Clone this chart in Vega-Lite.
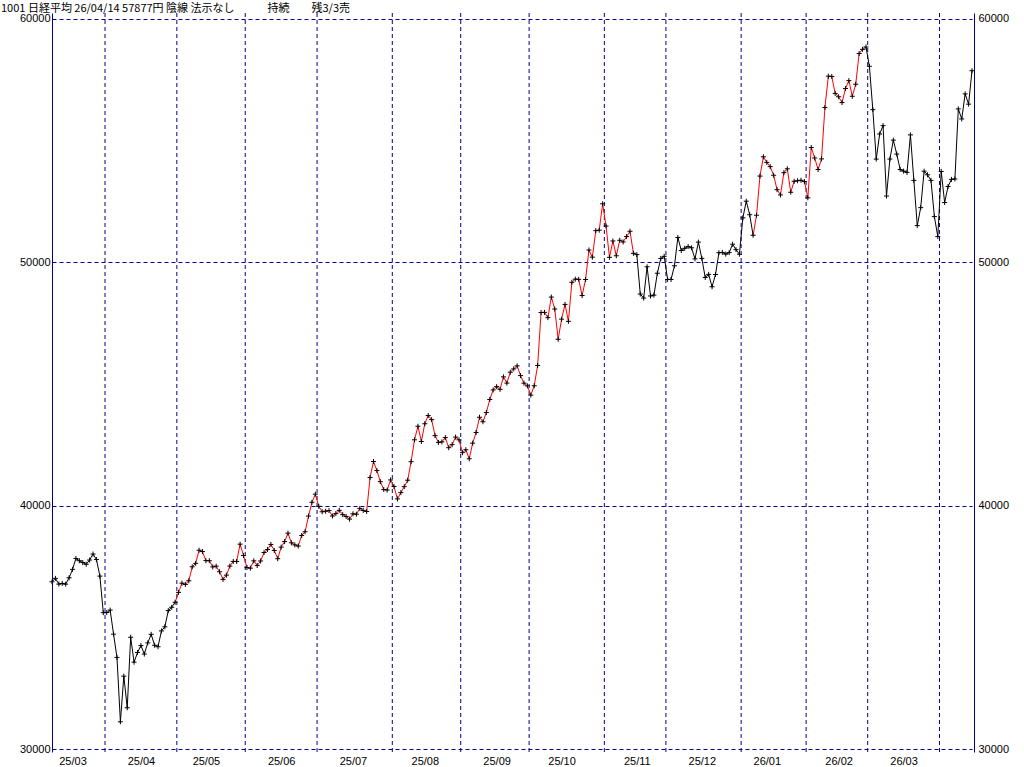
{
  "$schema": "https://vega.github.io/schema/vega-lite/v6.json",
  "width": 922,
  "height": 739,
  "autosize": "none",
  "padding": {"left": 52, "top": 13, "right": 50, "bottom": 15},
  "background": "white",
  "config": {
    "view": {"stroke": null},
    "axis": {"labelFont": "Liberation Sans", "labelFontSize": 11, "labelColor": "black"}
  },
  "title": {
    "text": "1001 日経平均 26/04/14 57877円 陰線 法示なし\u3000\u3000\u3000持続\u3000\u3000残3/3売",
    "anchor": "start",
    "frame": "group",
    "font": "Noto Sans CJK JP",
    "fontSize": 11,
    "fontWeight": "normal",
    "color": "black",
    "dx": -51,
    "offset": -10,
    "baseline": "alphabetic"
  },
  "datasets": {
    "months": [
      {"date": "2025-04-01"}, {"date": "2025-05-01"}, {"date": "2025-06-02"}, {"date": "2025-07-01"},
      {"date": "2025-08-01"}, {"date": "2025-09-01"}, {"date": "2025-10-01"}, {"date": "2025-11-04"},
      {"date": "2025-12-01"}, {"date": "2026-01-05"}, {"date": "2026-02-02"}, {"date": "2026-03-02"},
      {"date": "2026-04-01"}
    ],
    "prices": [
      {"date": "2025-03-07", "close": 36887, "c": "k"},
      {"date": "2025-03-10", "close": 37028, "c": "k"},
      {"date": "2025-03-11", "close": 36793, "c": "k"},
      {"date": "2025-03-12", "close": 36819, "c": "k"},
      {"date": "2025-03-13", "close": 36790, "c": "k"},
      {"date": "2025-03-14", "close": 37053, "c": "k"},
      {"date": "2025-03-17", "close": 37397, "c": "k"},
      {"date": "2025-03-18", "close": 37845, "c": "k"},
      {"date": "2025-03-19", "close": 37752, "c": "k"},
      {"date": "2025-03-21", "close": 37677, "c": "k"},
      {"date": "2025-03-24", "close": 37608, "c": "k"},
      {"date": "2025-03-25", "close": 37781, "c": "k"},
      {"date": "2025-03-26", "close": 38027, "c": "k"},
      {"date": "2025-03-27", "close": 37800, "c": "k"},
      {"date": "2025-03-28", "close": 37120, "c": "k"},
      {"date": "2025-03-31", "close": 35618, "c": "k"},
      {"date": "2025-04-01", "close": 35624, "c": "k"},
      {"date": "2025-04-02", "close": 35726, "c": "k"},
      {"date": "2025-04-03", "close": 34736, "c": "k"},
      {"date": "2025-04-04", "close": 33781, "c": "k"},
      {"date": "2025-04-07", "close": 31137, "c": "k"},
      {"date": "2025-04-08", "close": 33013, "c": "k"},
      {"date": "2025-04-09", "close": 31714, "c": "k"},
      {"date": "2025-04-10", "close": 34609, "c": "k"},
      {"date": "2025-04-11", "close": 33586, "c": "k"},
      {"date": "2025-04-14", "close": 33982, "c": "k"},
      {"date": "2025-04-15", "close": 34268, "c": "k"},
      {"date": "2025-04-16", "close": 33920, "c": "k"},
      {"date": "2025-04-17", "close": 34378, "c": "k"},
      {"date": "2025-04-18", "close": 34730, "c": "k"},
      {"date": "2025-04-21", "close": 34280, "c": "k"},
      {"date": "2025-04-22", "close": 34221, "c": "k"},
      {"date": "2025-04-23", "close": 34869, "c": "k"},
      {"date": "2025-04-24", "close": 35039, "c": "k"},
      {"date": "2025-04-25", "close": 35706, "c": "k"},
      {"date": "2025-04-28", "close": 35840, "c": "k"},
      {"date": "2025-04-30", "close": 36045, "c": "k"},
      {"date": "2025-05-01", "close": 36452, "c": "r"},
      {"date": "2025-05-02", "close": 36831, "c": "r"},
      {"date": "2025-05-07", "close": 36780, "c": "r"},
      {"date": "2025-05-08", "close": 36929, "c": "r"},
      {"date": "2025-05-09", "close": 37503, "c": "r"},
      {"date": "2025-05-12", "close": 37644, "c": "r"},
      {"date": "2025-05-13", "close": 38183, "c": "r"},
      {"date": "2025-05-14", "close": 38128, "c": "r"},
      {"date": "2025-05-15", "close": 37756, "c": "r"},
      {"date": "2025-05-16", "close": 37754, "c": "r"},
      {"date": "2025-05-19", "close": 37499, "c": "r"},
      {"date": "2025-05-20", "close": 37529, "c": "r"},
      {"date": "2025-05-21", "close": 37299, "c": "r"},
      {"date": "2025-05-22", "close": 36986, "c": "r"},
      {"date": "2025-05-23", "close": 37160, "c": "r"},
      {"date": "2025-05-26", "close": 37532, "c": "r"},
      {"date": "2025-05-27", "close": 37724, "c": "r"},
      {"date": "2025-05-28", "close": 37722, "c": "r"},
      {"date": "2025-05-29", "close": 38433, "c": "r"},
      {"date": "2025-05-30", "close": 37965, "c": "r"},
      {"date": "2025-06-02", "close": 37471, "c": "r"},
      {"date": "2025-06-03", "close": 37447, "c": "r"},
      {"date": "2025-06-04", "close": 37747, "c": "r"},
      {"date": "2025-06-05", "close": 37554, "c": "r"},
      {"date": "2025-06-06", "close": 37742, "c": "r"},
      {"date": "2025-06-09", "close": 38089, "c": "r"},
      {"date": "2025-06-10", "close": 38212, "c": "r"},
      {"date": "2025-06-11", "close": 38421, "c": "r"},
      {"date": "2025-06-12", "close": 38173, "c": "r"},
      {"date": "2025-06-13", "close": 37834, "c": "r"},
      {"date": "2025-06-16", "close": 38311, "c": "r"},
      {"date": "2025-06-17", "close": 38537, "c": "r"},
      {"date": "2025-06-18", "close": 38885, "c": "r"},
      {"date": "2025-06-19", "close": 38488, "c": "r"},
      {"date": "2025-06-20", "close": 38403, "c": "r"},
      {"date": "2025-06-23", "close": 38354, "c": "r"},
      {"date": "2025-06-24", "close": 38791, "c": "r"},
      {"date": "2025-06-25", "close": 38942, "c": "r"},
      {"date": "2025-06-26", "close": 39585, "c": "r"},
      {"date": "2025-06-27", "close": 40151, "c": "r"},
      {"date": "2025-06-30", "close": 40487, "c": "r"},
      {"date": "2025-07-01", "close": 39986, "c": "r"},
      {"date": "2025-07-02", "close": 39762, "c": "r"},
      {"date": "2025-07-03", "close": 39786, "c": "r"},
      {"date": "2025-07-04", "close": 39811, "c": "r"},
      {"date": "2025-07-07", "close": 39588, "c": "r"},
      {"date": "2025-07-08", "close": 39689, "c": "r"},
      {"date": "2025-07-09", "close": 39821, "c": "r"},
      {"date": "2025-07-10", "close": 39646, "c": "r"},
      {"date": "2025-07-11", "close": 39570, "c": "r"},
      {"date": "2025-07-14", "close": 39460, "c": "r"},
      {"date": "2025-07-15", "close": 39678, "c": "r"},
      {"date": "2025-07-16", "close": 39663, "c": "r"},
      {"date": "2025-07-17", "close": 39901, "c": "r"},
      {"date": "2025-07-18", "close": 39819, "c": "r"},
      {"date": "2025-07-22", "close": 39775, "c": "r"},
      {"date": "2025-07-23", "close": 41171, "c": "r"},
      {"date": "2025-07-24", "close": 41826, "c": "r"},
      {"date": "2025-07-25", "close": 41456, "c": "r"},
      {"date": "2025-07-28", "close": 40998, "c": "r"},
      {"date": "2025-07-29", "close": 40675, "c": "r"},
      {"date": "2025-07-30", "close": 40655, "c": "r"},
      {"date": "2025-07-31", "close": 41070, "c": "r"},
      {"date": "2025-08-01", "close": 40800, "c": "r"},
      {"date": "2025-08-04", "close": 40291, "c": "r"},
      {"date": "2025-08-05", "close": 40550, "c": "r"},
      {"date": "2025-08-06", "close": 40795, "c": "r"},
      {"date": "2025-08-07", "close": 41059, "c": "r"},
      {"date": "2025-08-08", "close": 41820, "c": "r"},
      {"date": "2025-08-12", "close": 42718, "c": "r"},
      {"date": "2025-08-13", "close": 43275, "c": "r"},
      {"date": "2025-08-14", "close": 42649, "c": "r"},
      {"date": "2025-08-15", "close": 43378, "c": "r"},
      {"date": "2025-08-18", "close": 43714, "c": "r"},
      {"date": "2025-08-19", "close": 43546, "c": "r"},
      {"date": "2025-08-20", "close": 42889, "c": "r"},
      {"date": "2025-08-21", "close": 42610, "c": "r"},
      {"date": "2025-08-22", "close": 42633, "c": "r"},
      {"date": "2025-08-25", "close": 42808, "c": "r"},
      {"date": "2025-08-26", "close": 42394, "c": "r"},
      {"date": "2025-08-27", "close": 42520, "c": "r"},
      {"date": "2025-08-28", "close": 42829, "c": "r"},
      {"date": "2025-08-29", "close": 42718, "c": "r"},
      {"date": "2025-09-01", "close": 42189, "c": "r"},
      {"date": "2025-09-02", "close": 42310, "c": "r"},
      {"date": "2025-09-03", "close": 41939, "c": "r"},
      {"date": "2025-09-04", "close": 42580, "c": "r"},
      {"date": "2025-09-05", "close": 43019, "c": "r"},
      {"date": "2025-09-08", "close": 43644, "c": "r"},
      {"date": "2025-09-09", "close": 43459, "c": "r"},
      {"date": "2025-09-10", "close": 43838, "c": "r"},
      {"date": "2025-09-11", "close": 44373, "c": "r"},
      {"date": "2025-09-12", "close": 44768, "c": "r"},
      {"date": "2025-09-16", "close": 44902, "c": "r"},
      {"date": "2025-09-17", "close": 44790, "c": "r"},
      {"date": "2025-09-18", "close": 45303, "c": "r"},
      {"date": "2025-09-19", "close": 45046, "c": "r"},
      {"date": "2025-09-22", "close": 45494, "c": "r"},
      {"date": "2025-09-24", "close": 45630, "c": "r"},
      {"date": "2025-09-25", "close": 45755, "c": "r"},
      {"date": "2025-09-26", "close": 45355, "c": "r"},
      {"date": "2025-09-29", "close": 45044, "c": "r"},
      {"date": "2025-09-30", "close": 44933, "c": "r"},
      {"date": "2025-10-01", "close": 44551, "c": "r"},
      {"date": "2025-10-02", "close": 44937, "c": "r"},
      {"date": "2025-10-03", "close": 45770, "c": "r"},
      {"date": "2025-10-06", "close": 47945, "c": "r"},
      {"date": "2025-10-07", "close": 47951, "c": "r"},
      {"date": "2025-10-08", "close": 47735, "c": "r"},
      {"date": "2025-10-09", "close": 48580, "c": "r"},
      {"date": "2025-10-10", "close": 48089, "c": "r"},
      {"date": "2025-10-14", "close": 46847, "c": "r"},
      {"date": "2025-10-15", "close": 47673, "c": "r"},
      {"date": "2025-10-16", "close": 48278, "c": "r"},
      {"date": "2025-10-17", "close": 47582, "c": "r"},
      {"date": "2025-10-20", "close": 49186, "c": "r"},
      {"date": "2025-10-21", "close": 49316, "c": "r"},
      {"date": "2025-10-22", "close": 49308, "c": "r"},
      {"date": "2025-10-23", "close": 48642, "c": "r"},
      {"date": "2025-10-24", "close": 49300, "c": "r"},
      {"date": "2025-10-27", "close": 50512, "c": "r"},
      {"date": "2025-10-28", "close": 50219, "c": "r"},
      {"date": "2025-10-29", "close": 51308, "c": "r"},
      {"date": "2025-10-30", "close": 51326, "c": "r"},
      {"date": "2025-10-31", "close": 52411, "c": "r"},
      {"date": "2025-11-04", "close": 51497, "c": "r"},
      {"date": "2025-11-05", "close": 50212, "c": "r"},
      {"date": "2025-11-06", "close": 50884, "c": "r"},
      {"date": "2025-11-07", "close": 50276, "c": "r"},
      {"date": "2025-11-10", "close": 50912, "c": "r"},
      {"date": "2025-11-11", "close": 50843, "c": "r"},
      {"date": "2025-11-12", "close": 51063, "c": "r"},
      {"date": "2025-11-13", "close": 51282, "c": "r"},
      {"date": "2025-11-14", "close": 50377, "c": "r"},
      {"date": "2025-11-17", "close": 50324, "c": "r"},
      {"date": "2025-11-18", "close": 48703, "c": "k"},
      {"date": "2025-11-19", "close": 48538, "c": "k"},
      {"date": "2025-11-20", "close": 49824, "c": "k"},
      {"date": "2025-11-21", "close": 48626, "c": "k"},
      {"date": "2025-11-25", "close": 48660, "c": "k"},
      {"date": "2025-11-26", "close": 49559, "c": "k"},
      {"date": "2025-11-27", "close": 50167, "c": "k"},
      {"date": "2025-11-28", "close": 50254, "c": "k"},
      {"date": "2025-12-01", "close": 49303, "c": "k"},
      {"date": "2025-12-02", "close": 49303, "c": "k"},
      {"date": "2025-12-03", "close": 49865, "c": "k"},
      {"date": "2025-12-04", "close": 51028, "c": "k"},
      {"date": "2025-12-05", "close": 50492, "c": "k"},
      {"date": "2025-12-08", "close": 50582, "c": "k"},
      {"date": "2025-12-09", "close": 50655, "c": "k"},
      {"date": "2025-12-10", "close": 50603, "c": "k"},
      {"date": "2025-12-11", "close": 50149, "c": "k"},
      {"date": "2025-12-12", "close": 50837, "c": "k"},
      {"date": "2025-12-15", "close": 50168, "c": "k"},
      {"date": "2025-12-16", "close": 49383, "c": "k"},
      {"date": "2025-12-17", "close": 49512, "c": "k"},
      {"date": "2025-12-18", "close": 49002, "c": "k"},
      {"date": "2025-12-19", "close": 49507, "c": "k"},
      {"date": "2025-12-22", "close": 50402, "c": "k"},
      {"date": "2025-12-23", "close": 50413, "c": "k"},
      {"date": "2025-12-24", "close": 50344, "c": "k"},
      {"date": "2025-12-25", "close": 50408, "c": "k"},
      {"date": "2025-12-26", "close": 50750, "c": "k"},
      {"date": "2025-12-29", "close": 50527, "c": "k"},
      {"date": "2025-12-30", "close": 50339, "c": "k"},
      {"date": "2026-01-05", "close": 51833, "c": "k"},
      {"date": "2026-01-06", "close": 52518, "c": "k"},
      {"date": "2026-01-07", "close": 51962, "c": "k"},
      {"date": "2026-01-08", "close": 51117, "c": "k"},
      {"date": "2026-01-09", "close": 51940, "c": "r"},
      {"date": "2026-01-13", "close": 53549, "c": "r"},
      {"date": "2026-01-14", "close": 54341, "c": "r"},
      {"date": "2026-01-15", "close": 54111, "c": "r"},
      {"date": "2026-01-16", "close": 53936, "c": "r"},
      {"date": "2026-01-19", "close": 53584, "c": "r"},
      {"date": "2026-01-20", "close": 52991, "c": "r"},
      {"date": "2026-01-21", "close": 52775, "c": "r"},
      {"date": "2026-01-22", "close": 53689, "c": "r"},
      {"date": "2026-01-23", "close": 53847, "c": "r"},
      {"date": "2026-01-26", "close": 52885, "c": "r"},
      {"date": "2026-01-27", "close": 53334, "c": "r"},
      {"date": "2026-01-28", "close": 53359, "c": "r"},
      {"date": "2026-01-29", "close": 53376, "c": "r"},
      {"date": "2026-01-30", "close": 53323, "c": "r"},
      {"date": "2026-02-02", "close": 52655, "c": "r"},
      {"date": "2026-02-03", "close": 54721, "c": "r"},
      {"date": "2026-02-04", "close": 54293, "c": "r"},
      {"date": "2026-02-05", "close": 53818, "c": "r"},
      {"date": "2026-02-06", "close": 54254, "c": "r"},
      {"date": "2026-02-09", "close": 56364, "c": "r"},
      {"date": "2026-02-10", "close": 57651, "c": "r"},
      {"date": "2026-02-12", "close": 57640, "c": "r"},
      {"date": "2026-02-13", "close": 56942, "c": "r"},
      {"date": "2026-02-16", "close": 56806, "c": "r"},
      {"date": "2026-02-17", "close": 56566, "c": "r"},
      {"date": "2026-02-18", "close": 57144, "c": "r"},
      {"date": "2026-02-19", "close": 57468, "c": "r"},
      {"date": "2026-02-20", "close": 56826, "c": "r"},
      {"date": "2026-02-24", "close": 57321, "c": "r"},
      {"date": "2026-02-25", "close": 58583, "c": "r"},
      {"date": "2026-02-26", "close": 58753, "c": "r"},
      {"date": "2026-02-27", "close": 58850, "c": "r"},
      {"date": "2026-03-02", "close": 58057, "c": "k"},
      {"date": "2026-03-03", "close": 56279, "c": "k"},
      {"date": "2026-03-04", "close": 54245, "c": "k"},
      {"date": "2026-03-05", "close": 55278, "c": "k"},
      {"date": "2026-03-06", "close": 55620, "c": "k"},
      {"date": "2026-03-09", "close": 52728, "c": "k"},
      {"date": "2026-03-10", "close": 54248, "c": "k"},
      {"date": "2026-03-11", "close": 55025, "c": "k"},
      {"date": "2026-03-12", "close": 54452, "c": "k"},
      {"date": "2026-03-13", "close": 53819, "c": "k"},
      {"date": "2026-03-16", "close": 53751, "c": "k"},
      {"date": "2026-03-17", "close": 53700, "c": "k"},
      {"date": "2026-03-18", "close": 55239, "c": "k"},
      {"date": "2026-03-19", "close": 53372, "c": "k"},
      {"date": "2026-03-23", "close": 51515, "c": "k"},
      {"date": "2026-03-24", "close": 52252, "c": "k"},
      {"date": "2026-03-25", "close": 53749, "c": "k"},
      {"date": "2026-03-26", "close": 53603, "c": "k"},
      {"date": "2026-03-27", "close": 53373, "c": "k"},
      {"date": "2026-03-30", "close": 51885, "c": "k"},
      {"date": "2026-03-31", "close": 51064, "c": "k"},
      {"date": "2026-04-01", "close": 53739, "c": "k"},
      {"date": "2026-04-02", "close": 52463, "c": "k"},
      {"date": "2026-04-03", "close": 53123, "c": "k"},
      {"date": "2026-04-06", "close": 53413, "c": "k"},
      {"date": "2026-04-07", "close": 53429, "c": "k"},
      {"date": "2026-04-08", "close": 56308, "c": "k"},
      {"date": "2026-04-09", "close": 55895, "c": "k"},
      {"date": "2026-04-10", "close": 56924, "c": "k"},
      {"date": "2026-04-13", "close": 56502, "c": "k"},
      {"date": "2026-04-14", "close": 57877, "c": "k"}
    ]
  },
  "encoding": {
    "x": {
      "field": "date",
      "type": "ordinal",
      "scale": {"type": "point", "padding": 0, "range": [0, 920]},
      "axis": {
        "orient": "bottom",
        "title": null,
        "values": ["2025-03-17", "2025-04-15", "2025-05-15", "2025-06-16", "2025-07-15", "2025-08-15", "2025-09-16", "2025-10-15", "2025-11-17", "2025-12-15", "2026-01-15", "2026-02-16", "2026-03-16"],
        "labelExpr": "substring(datum.value, 2, 4) + '/' + substring(datum.value, 5, 7)",
        "labelAngle": 0,
        "ticks": false,
        "domain": false,
        "grid": false,
        "labelPadding": 3,
        "labelFontSize": 11
      }
    }
  },
  "layer": [
    {
      "data": {"name": "months"},
      "mark": {"type": "rule", "stroke": "#00008b", "strokeWidth": 1, "strokeDash": [4, 3], "xOffset": -1.7}
    },
    {
      "data": {"name": "prices"},
      "transform": [
        {"window": [{"op": "lag", "field": "date", "as": "pdate"}, {"op": "lag", "field": "close", "as": "pclose"}], "sort": [{"field": "date", "order": "ascending"}]},
        {"filter": "datum.pdate != null"}
      ],
      "mark": {"type": "rule", "strokeWidth": 1},
      "encoding": {
        "x2": {"field": "pdate"},
        "y": {
          "field": "close",
          "type": "quantitative",
          "scale": {"domain": [29897, 60246], "nice": false, "zero": false},
          "axis": {
            "orient": "right",
            "title": null,
            "values": [30000, 40000, 50000, 60000],
            "format": "d",
            "grid": false,
            "ticks": false,
            "domain": true,
            "domainColor": "#00008b",
            "domainWidth": 1,
            "labelPadding": 4
          }
        },
        "y2": {"field": "pclose"},
        "color": {"field": "c", "type": "nominal", "scale": {"domain": ["r", "k"], "range": ["#ff0000", "#000000"]}, "legend": null}
      }
    },
    {
      "data": {"name": "prices"},
      "mark": {"type": "point", "shape": "M-1,0H1M0,-1V1", "size": 25, "filled": false, "stroke": "#000000", "strokeWidth": 1, "opacity": 1},
      "encoding": {
        "y": {
          "field": "close",
          "type": "quantitative",
          "scale": {"domain": [29897, 60246], "nice": false, "zero": false},
          "axis": {
            "orient": "left",
            "title": null,
            "values": [30000, 40000, 50000, 60000],
            "format": "d",
            "grid": true,
            "gridColor": "#00008b",
            "gridDash": [4, 3],
            "gridWidth": 1,
            "gridOpacity": 1,
            "ticks": false,
            "domain": true,
            "domainColor": "#00008b",
            "domainWidth": 1,
            "labelPadding": 2
          }
        }
      }
    }
  ],
  "resolve": {"axis": {"y": "independent"}}
}
